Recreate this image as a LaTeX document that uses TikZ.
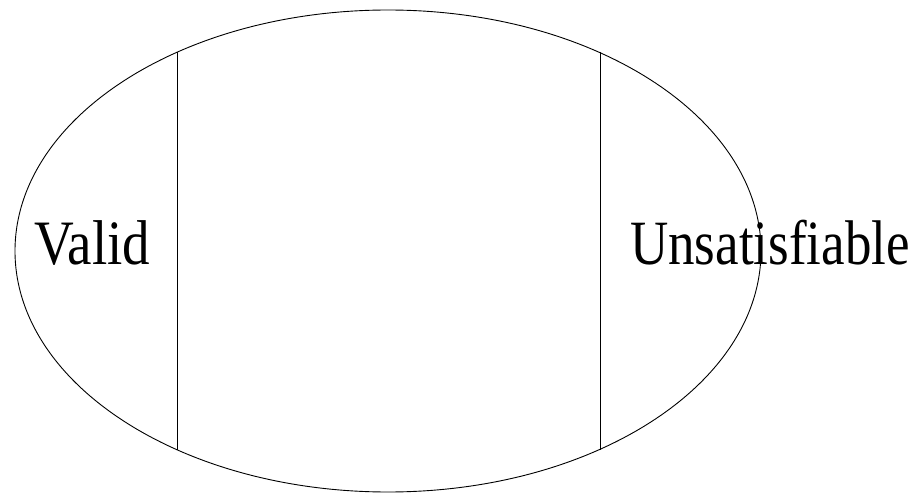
\documentclass[tikz,border=0pt]{standalone}
\usepackage{fontspec}
\setmainfont{Liberation Serif}
\usetikzlibrary{shapes.geometric}
\begin{document}
\begin{tikzpicture}[x=1pt,y=-1pt,
  lbl/.style={inner sep=0pt,anchor=base west,font=\fontsize{55}{62}\selectfont},
  edge/.style={draw=black,line width=0.9pt}]
\useasboundingbox (0,0) rectangle (915,494);
\node[ellipse,draw=black,line width=0.9pt,inner sep=0pt,minimum width=746pt,minimum height=482pt] (E) at (388,251) {};
\coordinate (l1) at (177,52);
\coordinate (l2) at (177,450);
\coordinate (r1) at (600,52);
\coordinate (r2) at (600,450);
\draw[edge] (l1) -- (l2);
\draw[edge] (r1) -- (r2);
\node[lbl] (valid) at (34,265) {\scalebox{1}[1.15]{Valid}};
\node[lbl,font=\fontsize{53}{60}\selectfont] (unsat) at (630,265) {\scalebox{1}[1.19]{Unsatisfiable}};
\end{tikzpicture}
\end{document}
